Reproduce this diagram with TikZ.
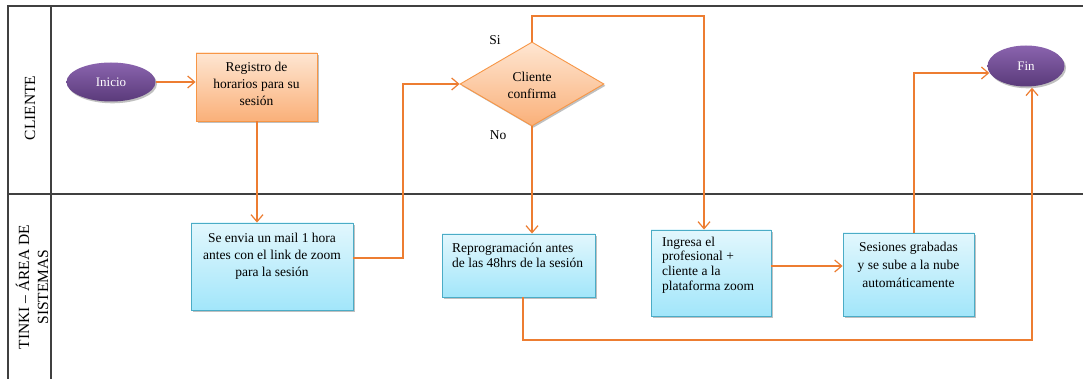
\documentclass[tikz,border=0pt]{standalone}
\usepackage{fontspec}
\setmainfont{Liberation Serif}
\usetikzlibrary{arrows.meta,shapes.geometric,shadows}
\definecolor{connc}{HTML}{ED7D31}
\definecolor{framec}{HTML}{404040}
\definecolor{btop}{HTML}{E2F7FD}
\definecolor{bbot}{HTML}{A2E6FA}
\definecolor{bbord}{HTML}{4BACC6}
\definecolor{otop}{HTML}{FEE6D2}
\definecolor{obot}{HTML}{FAB079}
\definecolor{obord}{HTML}{F79646}
\definecolor{ptop}{HTML}{8A64AE}
\definecolor{pbot}{HTML}{5A3A7A}
\tikzset{
  frameline/.style={draw=framec, line width=1.2pt},
  conn/.style={draw=connc, line width=1.2pt, -{Straight Barb[length=7pt,width=12pt]}},
  shad/.style={drop shadow={shadow xshift=1.5pt, shadow yshift=-1.8pt, opacity=0.35, fill=black!70}},
  bluebox/.style={rectangle, draw=bbord, line width=0.9pt, top color=btop, bottom color=bbot, shad, inner sep=0pt},
  orangebox/.style={rectangle, draw=obord, line width=0.9pt, top color=otop, bottom color=obot, shad, inner sep=0pt},
  decision/.style={diamond, draw=obord, line width=0.9pt, top color=otop, bottom color=obot, shad, inner sep=0pt, aspect=1.7},
  terminal/.style={ellipse, draw=none, top color=ptop, bottom color=pbot, shad, inner sep=0pt, text=white, font=\fontsize{13}{15}\selectfont},
  boxtext/.style={inner sep=0pt, font=\fontsize{13.5}{17}\selectfont},
  lanetext/.style={inner sep=0pt, rotate=90, align=center, font=\fontsize{15.5}{19}\selectfont},
  lbl/.style={inner sep=0pt, font=\fontsize{13.5}{15}\selectfont}
}
\begin{document}
\begin{tikzpicture}[x=1pt,y=-1pt]
\useasboundingbox[fill=white] (0,0) rectangle (1083,379);
% frame
\draw[frameline] (8,379) -- (8,6) -- (1083,6);
\draw[frameline] (51,6) -- (51,379);
\draw[frameline] (8,194) -- (1083,194);
\node[lanetext] (lane1) at (30,108) {CLIENTE};
\node[lanetext] (lane2) at (32,287) {TINKI -- ÁREA DE\\SISTEMAS};
% nodes
\node[terminal, minimum width=89pt, minimum height=39pt] (inicio) at (111,82) {Inicio};
\node[orangebox, minimum width=121pt, minimum height=68pt] (reg) at (256.5,87) {};
\node[boxtext, align=center] (regt) at (256.5,84) {Registro de\\horarios para su\\sesión};
\node[bluebox, minimum width=162pt, minimum height=87pt] (mail) at (272,266.5) {};
\node[boxtext, align=center] (mailt) at (272,256) {Se envia un mail 1 hora\\antes con el link de zoom\\para la sesión};
\node[decision, minimum width=144pt, minimum height=84pt] (dec) at (532,84) {};
\node[boxtext, align=center] (dect) at (532,85) {Cliente\\confirma};
\node[bluebox, minimum width=153pt, minimum height=63pt] (rep) at (518.5,265.5) {};
\node[boxtext, align=left, font=\fontsize{13.5}{15}\selectfont, anchor=west] (rept) at (452,255.5) {Reprogramación antes\\de las 48hrs de la sesión};
\node[bluebox, minimum width=120pt, minimum height=86pt] (ing) at (711,273) {};
\node[boxtext, align=left, font=\fontsize{13.5}{14.8}\selectfont, anchor=west] (ingt) at (662,265) {Ingresa el\\profesional +\\cliente a la\\plataforma zoom};
\node[bluebox, minimum width=131pt, minimum height=83pt] (ses) at (908.5,274.5) {};
\node[boxtext, align=center, font=\fontsize{13.5}{18}\selectfont] (sest) at (908.5,265) {Sesiones grabadas\\y se sube a la nube\\automáticamente};
\node[terminal, minimum width=77pt, minimum height=41pt] (fin) at (1026,66) {Fin};
\node[lbl] (si) at (495,40) {Si};
\node[lbl] (no) at (498,135) {No};
% junction points
\coordinate (j1) at (403,84);
\coordinate (j2) at (704,16);
\coordinate (j3) at (1032,340);
\coordinate (j4) at (914,73);
% connectors
\draw[conn] (inicio.east) -- (inicio.east -| reg.west);
\draw[conn] ([xshift=0.5pt]reg.south) -- ([xshift=0.5pt]reg.south |- mail.north);
\draw[conn] ([yshift=8.5pt]mail.east) -| (j1) -- (dec.west);
\draw[conn] (dec.north) |- (j2) -- (j2 |- ing.north);
\draw[conn] (dec.south) -- (dec.south |- rep.north);
\draw[conn] ([xshift=4.5pt]rep.south) |- (j3) -- ([yshift=-1pt]j3 |- fin.south);
\draw[conn] ([yshift=7pt]ing.east) -- ([yshift=7pt]ing.east -| ses.west);
\draw[conn] ([xshift=5.5pt]ses.north) |- ([xshift=2pt]fin.west |- j4);
\end{tikzpicture}
\end{document}
